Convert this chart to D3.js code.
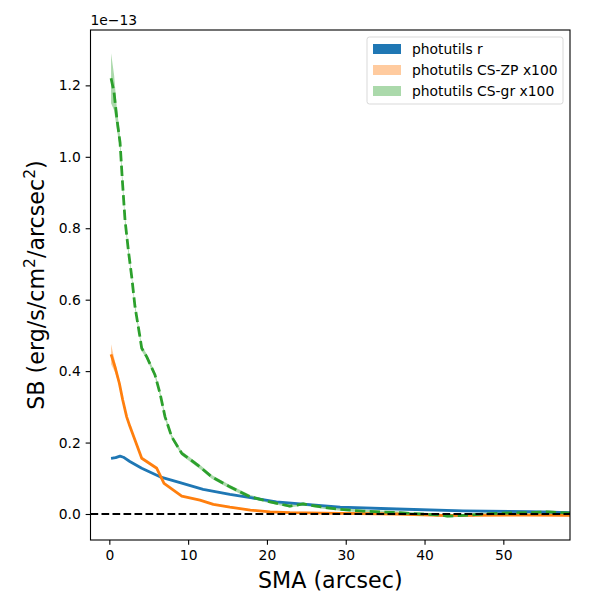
<!DOCTYPE html>
<html>
<head>
<meta charset="utf-8">
<script src="https://cdn.jsdelivr.net/npm/d3@7"></script>
<style>
  body { margin: 0; background: #fff; }
  text { font-family: "DejaVu Sans", sans-serif; }
</style>
</head>
<body>
<svg id="chart" width="600" height="600"></svg>
<script>
// SMA (arcsec) and surface brightness in units of 1e-13
const smaR = [0.22, 0.8, 1.36, 1.78, 2.6, 4.11, 6.43, 8.97, 11.9, 15.3, 17.9, 21.2, 25.0, 29.3, 36.5, 44.9, 53.4, 58.5];
const sbR  = [0.156, 0.158, 0.162, 0.159, 0.147, 0.128, 0.104, 0.088, 0.069, 0.055, 0.046, 0.034, 0.027, 0.019, 0.014, 0.009, 0.0064, 0.0036];
const errR = [0.003, 0.003, 0.003, 0.003, 0.003, 0.002, 0.002, 0.002, 0.002, 0.002, 0.002, 0.002, 0.002, 0.002, 0.002, 0.002, 0.002, 0.002];

const smaZP = [0.22, 0.72, 1.27, 1.70, 2.2, 2.63, 4.11, 6.02, 6.94, 9.19, 11.5, 13.2, 15.3, 17.9, 20.4, 22.9, 29.3, 36.5, 42.0, 44.9, 53.4, 58.5];
const sbZP  = [0.447, 0.412, 0.366, 0.319, 0.272, 0.244, 0.156, 0.128, 0.086, 0.050, 0.039, 0.027, 0.019, 0.011, 0.006, 0.004, 0.002, 0.000, -0.004, -0.004, -0.003, -0.004];
const errZP = [0.028, 0.015, 0.008, 0.005, 0.004, 0.003, 0.003, 0.003, 0.002, 0.002, 0.002, 0.002, 0.002, 0.002, 0.002, 0.002, 0.002, 0.002, 0.002, 0.002, 0.002, 0.002];

const smaGR = [0.22, 0.6, 0.94, 1.36, 1.65, 1.99, 2.41, 2.84, 3.26, 3.81, 4.11, 4.75, 5.8, 6.43, 7.07, 7.92, 9.19, 11.5, 13.0, 15.3, 17.9, 20.4, 22.9, 24.6, 27.1, 29.3, 32.2, 36.5, 42.0, 42.9, 44.9, 49.2, 53.4, 55.5, 58.5];
const sbGR  = [1.22, 1.18, 1.11, 1.04, 0.935, 0.823, 0.739, 0.664, 0.580, 0.506, 0.464, 0.440, 0.389, 0.338, 0.272, 0.216, 0.170, 0.132, 0.104, 0.076, 0.048, 0.034, 0.022, 0.028, 0.019, 0.013, 0.008, 0.004, -0.003, -0.006, -0.004, 0.002, 0.004, 0.006, 0.002];
const errGR = [0.07, 0.05, 0.03, 0.02, 0.015, 0.012, 0.01, 0.009, 0.008, 0.008, 0.008, 0.007, 0.007, 0.007, 0.007, 0.006, 0.006, 0.006, 0.005, 0.005, 0.005, 0.004, 0.004, 0.004, 0.004, 0.004, 0.004, 0.004, 0.004, 0.004, 0.004, 0.004, 0.004, 0.004, 0.004];

const xTicks = [0, 10, 20, 30, 40, 50];
const yTicks = [0.0, 0.2, 0.4, 0.6, 0.8, 1.0, 1.2];

const series = [
  { name: "photutils r", x: smaR, y: sbR, e: errR, color: "#1f77b4", dash: null, patch: "#1f77b4" },
  { name: "photutils CS-ZP x100", x: smaZP, y: sbZP, e: errZP, color: "#ff7f0e", dash: null, patch: "#ffcb9f" },
  { name: "photutils CS-gr x100", x: smaGR, y: sbGR, e: errGR, color: "#2ca02c", dash: "10.3,4.4", patch: "#abd9ab" }
];

const fs = 13.89; // 10pt at 100 dpi
const margin = { left: 90.5, right: 30, top: 30, bottom: 60 };
const W = 600, H = 600;
const svg = d3.select("#chart");

const x = d3.scaleLinear().domain([-2.39, 58.46]).range([margin.left, W - margin.right]);
const y = d3.scaleLinear().domain([-0.0728, 1.355]).range([H - margin.bottom, margin.top]);

svg.append("defs").append("clipPath").attr("id", "clip")
  .append("rect")
  .attr("x", margin.left).attr("y", margin.top)
  .attr("width", W - margin.left - margin.right)
  .attr("height", H - margin.top - margin.bottom);

const plot = svg.append("g").attr("clip-path", "url(#clip)");

const area = d3.area()
  .x(d => x(d[0]))
  .y0(d => y(d[1] - d[2]))
  .y1(d => y(d[1] + d[2]));
const line = d3.line().x(d => x(d[0])).y(d => y(d[1]));

series.forEach(s => {
  const pts = s.x.map((v, i) => [v, s.y[i], s.e[i]]);
  plot.append("path").attr("d", area(pts))
    .attr("fill", s.color).attr("fill-opacity", 0.4);
});
series.forEach(s => {
  const pts = s.x.map((v, i) => [v, s.y[i], s.e[i]]);
  const p = plot.append("path").attr("d", line(pts))
    .attr("fill", "none").attr("stroke", s.color)
    .attr("stroke-width", 2.78).attr("stroke-linejoin", "round");
  if (s.dash) p.attr("stroke-dasharray", s.dash);
});

// zero line
plot.append("line")
  .attr("x1", margin.left).attr("x2", W - margin.right)
  .attr("y1", y(0)).attr("y2", y(0))
  .attr("stroke", "#000").attr("stroke-width", 2.08)
  .attr("stroke-dasharray", "7.7,3.3");

// axes
const xAxis = svg.append("g")
  .attr("transform", `translate(0,${H - margin.bottom})`)
  .call(d3.axisBottom(x).tickValues(xTicks).tickSize(4.86).tickPadding(4.86).tickFormat(d3.format("d")));
const yAxis = svg.append("g")
  .attr("transform", `translate(${margin.left},0)`)
  .call(d3.axisLeft(y).tickValues(yTicks).tickSize(4.86).tickPadding(4.86).tickFormat(d3.format(".1f")));
[xAxis, yAxis].forEach(a => {
  a.select(".domain").remove();
  a.selectAll("text").attr("font-size", fs + "px").attr("fill", "#000")
    .style("font-family", "DejaVu Sans, sans-serif");
  a.selectAll("line").attr("stroke", "#000").attr("stroke-width", 1.1);
});

svg.append("rect")
  .attr("x", margin.left).attr("y", margin.top)
  .attr("width", W - margin.left - margin.right)
  .attr("height", H - margin.top - margin.bottom)
  .attr("fill", "none").attr("stroke", "#000").attr("stroke-width", 1.1);

// offset text
svg.append("text").attr("x", margin.left).attr("y", 25)
  .attr("font-size", fs + "px").text("1e\u221213");

// axis labels
svg.append("text").attr("x", (margin.left + W - margin.right) / 2).attr("y", 588)
  .attr("text-anchor", "middle").attr("font-size", "22.2px").text("SMA (arcsec)");

const yl = svg.append("text")
  .attr("transform", `translate(44,${(margin.top + H - margin.bottom) / 2}) rotate(-90)`)
  .attr("text-anchor", "middle").attr("font-size", "22.2px");
yl.append("tspan").text("SB (erg/s/cm");
yl.append("tspan").attr("baseline-shift", "super").attr("font-size", "15.5px").text("2");
yl.append("tspan").text("/arcsec");
yl.append("tspan").attr("baseline-shift", "super").attr("font-size", "15.5px").text("2");
yl.append("tspan").text(")");

// legend
const lg = svg.append("g").attr("transform", "translate(367,37)");
lg.append("rect").attr("width", 196).attr("height", 67).attr("rx", 2.5)
  .attr("fill", "#fff").attr("fill-opacity", 0.8)
  .attr("stroke", "#d9d9d9").attr("stroke-width", 1);
series.forEach((s, i) => {
  const cy = 12 + i * 21;
  lg.append("rect").attr("x", 6).attr("y", cy - 5).attr("width", 28).attr("height", 10)
    .attr("fill", s.patch);
  lg.append("text").attr("x", 45).attr("y", cy + 5)
    .attr("font-size", fs + "px").text(s.name);
});
</script>
</body>
</html>
